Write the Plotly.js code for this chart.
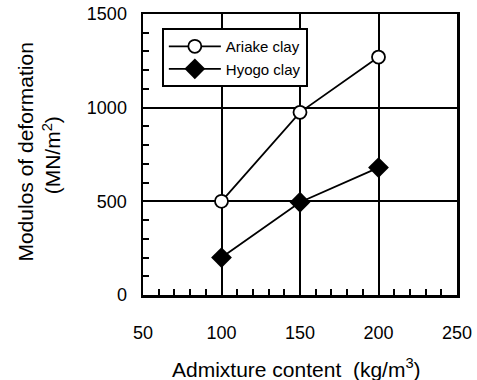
<!DOCTYPE html>
<html><head><meta charset="utf-8">
<script src="https://cdn.plot.ly/plotly-3.0.1.min.js"></script>
<style>html,body{margin:0;padding:0;background:#fff}</style>
</head><body>
<div id="chart" style="width:477px;height:380px"></div>
<script>
var admixture = [100, 150, 200];
var ariake = [500, 975, 1270];
var hyogo = [200, 495, 680];
var seriesNames = ["Ariake clay", "Hyogo clay"];
var xTicks = [50, 100, 150, 200, 250];
var yTicks = [0, 500, 1000, 1500];

var font = "Liberation Sans, Arial, sans-serif";
var traces = [
  {x: admixture, y: ariake, name: seriesNames[0], mode: "lines+markers",
   line: {color: "#000", width: 1.8},
   marker: {symbol: "circle", size: 13, color: "#fff", line: {color: "#000", width: 1.8}}},
  {x: admixture, y: hyogo, name: seriesNames[1], mode: "lines+markers",
   line: {color: "#000", width: 1.8},
   marker: {symbol: "diamond", size: 16, color: "#000", line: {color: "#000", width: 0}}}
];
var layout = {
  width: 477, height: 380,
  margin: {l: 143, r: 20, t: 14, b: 85},
  paper_bgcolor: "#fff", plot_bgcolor: "#fff",
  font: {family: font, size: 18, color: "#000"},
  showlegend: true,
  legend: {x: 0.06, y: 0.95, xanchor: "left", yanchor: "top",
    bordercolor: "#000", borderwidth: 2, bgcolor: "#fff",
    font: {family: font, size: 15, color: "#000"}, tracegroupgap: 0, itemwidth: 52},
  xaxis: {range: [50, 250], tickvals: xTicks, ticks: "inside", ticklen: 6, tickwidth: 2,
    tickcolor: "#000", showgrid: true, gridcolor: "#000", gridwidth: 2,
    showline: true, linecolor: "#000", linewidth: 2.5, mirror: true, zeroline: false,
    ticklabelstandoff: 20,
    minor: {dtick: 10, ticks: "inside", ticklen: 6, tickwidth: 2, tickcolor: "#000", showgrid: false}},
  yaxis: {range: [0, 1500], tickvals: yTicks, ticks: "inside", ticklen: 6, tickwidth: 2,
    tickcolor: "#000", showgrid: true, gridcolor: "#000", gridwidth: 2,
    showline: true, linecolor: "#000", linewidth: 2.5, mirror: true, zeroline: false,
    ticklabelstandoff: 10,
    minor: {dtick: 100, ticks: "inside", ticklen: 6, tickwidth: 2, tickcolor: "#000", showgrid: false}},
  annotations: [
    {text: "Admixture content  (kg/m<sup>3</sup>)", xref: "paper", yref: "paper",
     x: 0.49, y: -0.312, xanchor: "center", yanchor: "bottom", showarrow: false,
     font: {family: font, size: 21, color: "#000"}},
    {text: "Modulos of deformation", xref: "paper", yref: "paper",
     x: -0.373, y: 0.51, xanchor: "center", yanchor: "middle", textangle: -90, showarrow: false,
     font: {family: font, size: 21, color: "#000"}},
    {text: "(MN/m<sup>2</sup>)", xref: "paper", yref: "paper",
     x: -0.29, y: 0.497, xanchor: "center", yanchor: "middle", textangle: -90, showarrow: false,
     font: {family: font, size: 21, color: "#000"}}
  ]
};
Plotly.newPlot("chart", traces, layout, {displayModeBar: false, staticPlot: true});
</script>
</body></html>
